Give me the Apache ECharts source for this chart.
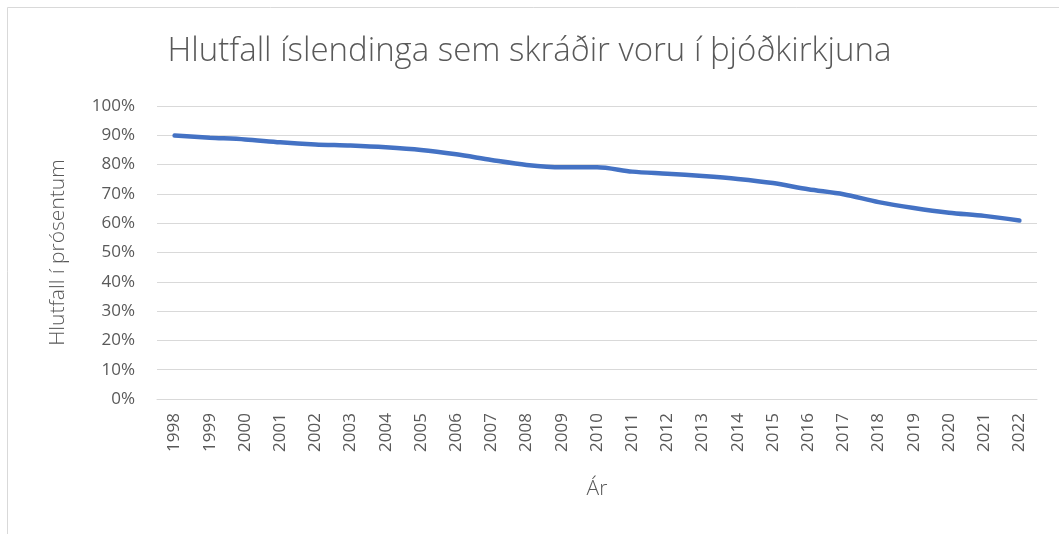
<!DOCTYPE html>
<html>
<head>
<meta charset="utf-8">
<script src="https://cdn.jsdelivr.net/npm/echarts@6/dist/echarts.min.js"></script>
<style>
  html, body { margin: 0; padding: 0; background: #fff; }
  #chart { width: 1059px; height: 534px; }
</style>
</head>
<body>
<div id="chart"></div>
<script>
// ár og hlutfall (lesið af myndinni)
const years = ['1998','1999','2000','2001','2002','2003','2004','2005','2006','2007','2008','2009',
  '2010','2011','2012','2013','2014','2015','2016','2017','2018','2019','2020','2021','2022'];
const share = [89.9, 89.2, 88.6, 87.6, 86.9, 86.5, 85.9, 85.0, 83.5, 81.6, 79.9, 79.1,
  79.1, 77.6, 76.9, 76.1, 75.1, 73.7, 71.6, 69.9, 67.2, 65.2, 63.6, 62.5, 60.9];

const titleText = 'Hlutfall íslendinga sem skráðir voru í þjóðkirkjuna';
const xName = 'Ár';
const yName = 'Hlutfall í prósentum';

const font = '"Open Sans", "Noto Sans", sans-serif';
const txt = '#595959';

const chart = echarts.init(document.getElementById('chart'));
chart.setOption({
  backgroundColor: '#fff',
  animation: false,
  textStyle: { fontFamily: font },
  graphic: [{
    type: 'rect',
    shape: { x: 7.5, y: 7.5, width: 1200, height: 700 },
    style: { fill: 'none', stroke: '#d9d9d9', lineWidth: 1 },
    silent: true
  }],
  title: {
    text: titleText,
    left: 'center',
    top: 30,
    textStyle: { fontFamily: font, fontWeight: 300, fontSize: 33, color: txt }
  },
  grid: { left: 157, right: 22, top: 106, bottom: 135 },
  xAxis: {
    type: 'category',
    data: years,
    boundaryGap: true,
    name: xName,
    nameLocation: 'middle',
    nameGap: 80,
    nameTextStyle: { fontFamily: font, fontWeight: 300, fontSize: 21, color: txt },
    axisLine: { lineStyle: { color: '#d9d9d9' } },
    axisTick: { show: false },
    axisLabel: { rotate: 90, interval: 0, margin: 14, fontSize: 17, color: txt, fontFamily: font, fontWeight: 400 }
  },
  yAxis: {
    type: 'value',
    min: 0,
    max: 100,
    interval: 10,
    name: yName,
    nameLocation: 'middle',
    nameGap: 88,
    nameTextStyle: { fontFamily: font, fontWeight: 300, fontSize: 21, color: txt },
    axisLine: { show: false },
    axisTick: { show: false },
    splitLine: { lineStyle: { color: '#d9d9d9', width: 1 } },
    axisLabel: { formatter: '{value}%', margin: 22, fontSize: 17, color: txt, fontFamily: font, fontWeight: 400 }
  },
  series: [{
    type: 'line',
    data: share,
    smooth: 0.3,
    showSymbol: false,
    lineStyle: { color: '#4472C4', width: 4.5, cap: 'round' },
    itemStyle: { color: '#4472C4' }
  }]
});
</script>
</body>
</html>
